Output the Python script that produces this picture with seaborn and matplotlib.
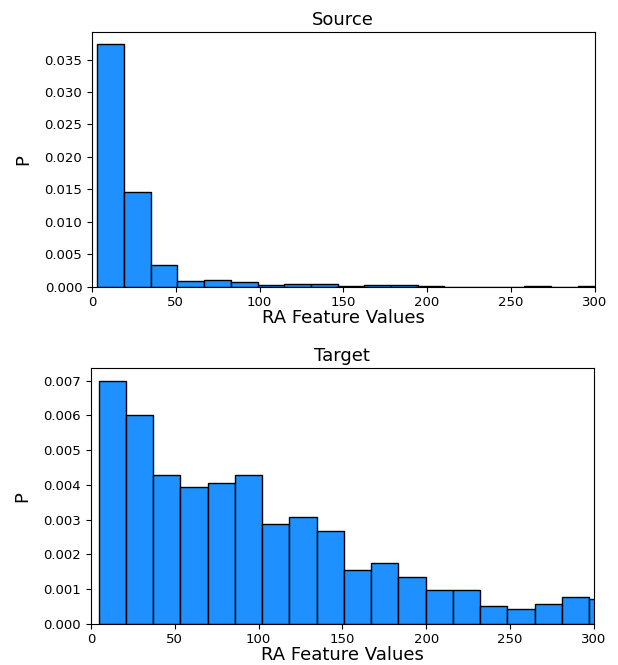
import numpy as np
import pandas as pd
import matplotlib
matplotlib.use('Agg')
import matplotlib.pyplot as plt
import seaborn as sns

# density per bin
source_p = [0.0374, 0.0146, 0.00335, 0.00088, 0.00108, 0.00067, 0.0003, 0.00046,
            0.00046, 0.00015, 0.00026, 0.00026, 0.00015, 0.0, 0.0, 0.0,
            0.00015, 0.0, 0.00015]
target_p = [0.0070, 0.00602, 0.00429, 0.00393, 0.00405, 0.00429, 0.00288, 0.00308,
            0.00267, 0.00156, 0.00176, 0.00135, 0.00097, 0.00097, 0.0005, 0.00043,
            0.00057, 0.00077, 0.0007]

source_start, source_width = 3.2, 15.93
target_start, target_width = 4.6, 16.25


def draw(ax, p, start, width, title):
    edges = start + width * np.arange(len(p) + 1)
    df = pd.DataFrame({'ra': (edges[:-1] + edges[1:]) / 2, 'p': p})
    sns.histplot(data=df, x='ra', weights='p', bins=list(edges), ax=ax, color='dodgerblue',
                 edgecolor='black', linewidth=1, alpha=1)
    ax.set_xlim(0, 300)
    ax.set_title(title, fontsize=13, pad=5)
    ax.set_xlabel('RA Feature Values', fontsize=13, labelpad=0)
    ax.set_ylabel('P', fontsize=13, labelpad=9)
    ax.tick_params(labelsize=9.5)


fig = plt.figure(figsize=(6.18, 6.65), dpi=100)
ax1 = fig.add_axes([0.149, 0.569, 0.813, 0.383])
ax2 = fig.add_axes([0.147, 0.062, 0.814, 0.384])

draw(ax1, source_p, source_start, source_width, 'Source')
draw(ax2, target_p, target_start, target_width, 'Target')

fig.savefig('out.png', dpi=100)
